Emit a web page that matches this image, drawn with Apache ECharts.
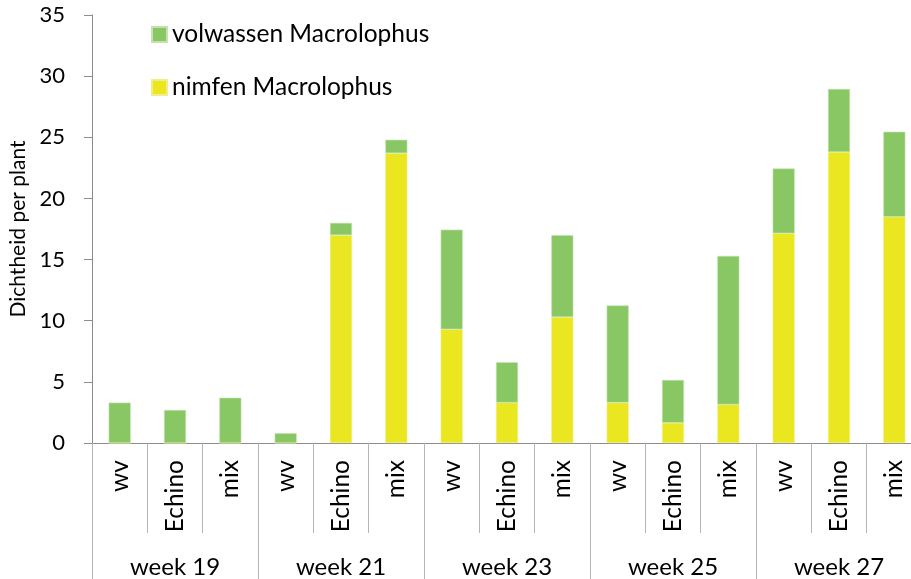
<!DOCTYPE html>
<html>
<head>
<meta charset="utf-8">
<script src="https://cdn.jsdelivr.net/npm/echarts@6/dist/echarts.min.js"></script>
<style>
html,body{margin:0;padding:0;background:#fff;}
#chart{width:911px;height:579px;}
</style>
</head>
<body>
<div id="chart"></div>
<script>
var subCats = ['wv','Echino','mix','wv','Echino','mix','wv','Echino','mix','wv','Echino','mix','wv','Echino','mix'];
var weeks = ['week 19','week 21','week 23','week 25','week 27'];
var nimfen = [0, 0, 0, 0, 17.0, 23.7, 9.3, 3.3, 10.3, 3.3, 1.65, 3.15, 17.15, 23.8, 18.5];
var volwassen = [3.3, 2.7, 3.7, 0.8, 1.0, 1.1, 8.15, 3.3, 6.7, 7.95, 3.5, 12.15, 5.3, 5.15, 6.95];
var yTicks = [0, 35, 5];

var font = 'Lato';
var axisGrey = '#8c8c8c';

var myChart = echarts.init(document.getElementById('chart'));
var option = {
    animation: false,
    textStyle: {fontFamily: font},
    legend: {
        orient: 'vertical',
        left: 146,
        top: 17,
        icon: 'rect',
        itemWidth: 15,
        itemHeight: 15,
        itemGap: 28,
        selectedMode: false,
        data: ['volwassen Macrolophus', 'nimfen Macrolophus'],
        textStyle: {fontFamily: font, fontSize: 24.5, color: '#000', padding: [0, 0, 0, 0]}
    },
    grid: {left: 92, top: 15, bottom: 136, right: -11, outerBoundsMode: 'none'},
    xAxis: [
        {
            type: 'category',
            position: 'bottom',
            data: subCats,
            axisLine: {lineStyle: {color: axisGrey, width: 1}},
            axisTick: {show: true, length: 90, interval: 0, lineStyle: {color: '#b5b5b5'}},
            axisLabel: {rotate: 90, margin: 17, interval: 0, fontSize: 24.5, color: '#000', fontFamily: font}
        },
        {
            type: 'category',
            position: 'bottom',
            offset: 0,
            data: weeks,
            axisLine: {show: false},
            axisTick: {show: true, length: 136, interval: 0, lineStyle: {color: '#b5b5b5'}},
            axisLabel: {margin: 112, interval: 0, fontSize: 24, color: '#000', fontFamily: font}
        }
    ],
    yAxis: {
        type: 'value',
        min: yTicks[0],
        max: yTicks[1],
        interval: yTicks[2],
        name: 'Dichtheid per plant',
        nameLocation: 'middle',
        nameRotate: 90,
        nameGap: 59,
        nameTextStyle: {fontSize: 21, color: '#000', fontFamily: font},
        axisLine: {show: true, lineStyle: {color: axisGrey}},
        axisTick: {show: true, length: 8, lineStyle: {color: axisGrey}},
        axisLabel: {margin: 27, fontSize: 22, color: '#000', fontFamily: font},
        splitLine: {show: false}
    },
    series: [
        {
            name: 'nimfen Macrolophus',
            type: 'bar',
            stack: 'tot',
            barWidth: 22,
            data: nimfen,
            itemStyle: {color: '#EAE620', borderColor: '#F1EE8A', borderWidth: 0.6}
        },
        {
            name: 'volwassen Macrolophus',
            type: 'bar',
            stack: 'tot',
            barWidth: 22,
            data: volwassen,
            itemStyle: {color: '#88C764', borderColor: '#C3E3AE', borderWidth: 0.6}
        }
    ]
};
myChart.setOption(option);
window.onresize = function(){
    myChart.resize();
};
</script>
</body>
</html>
